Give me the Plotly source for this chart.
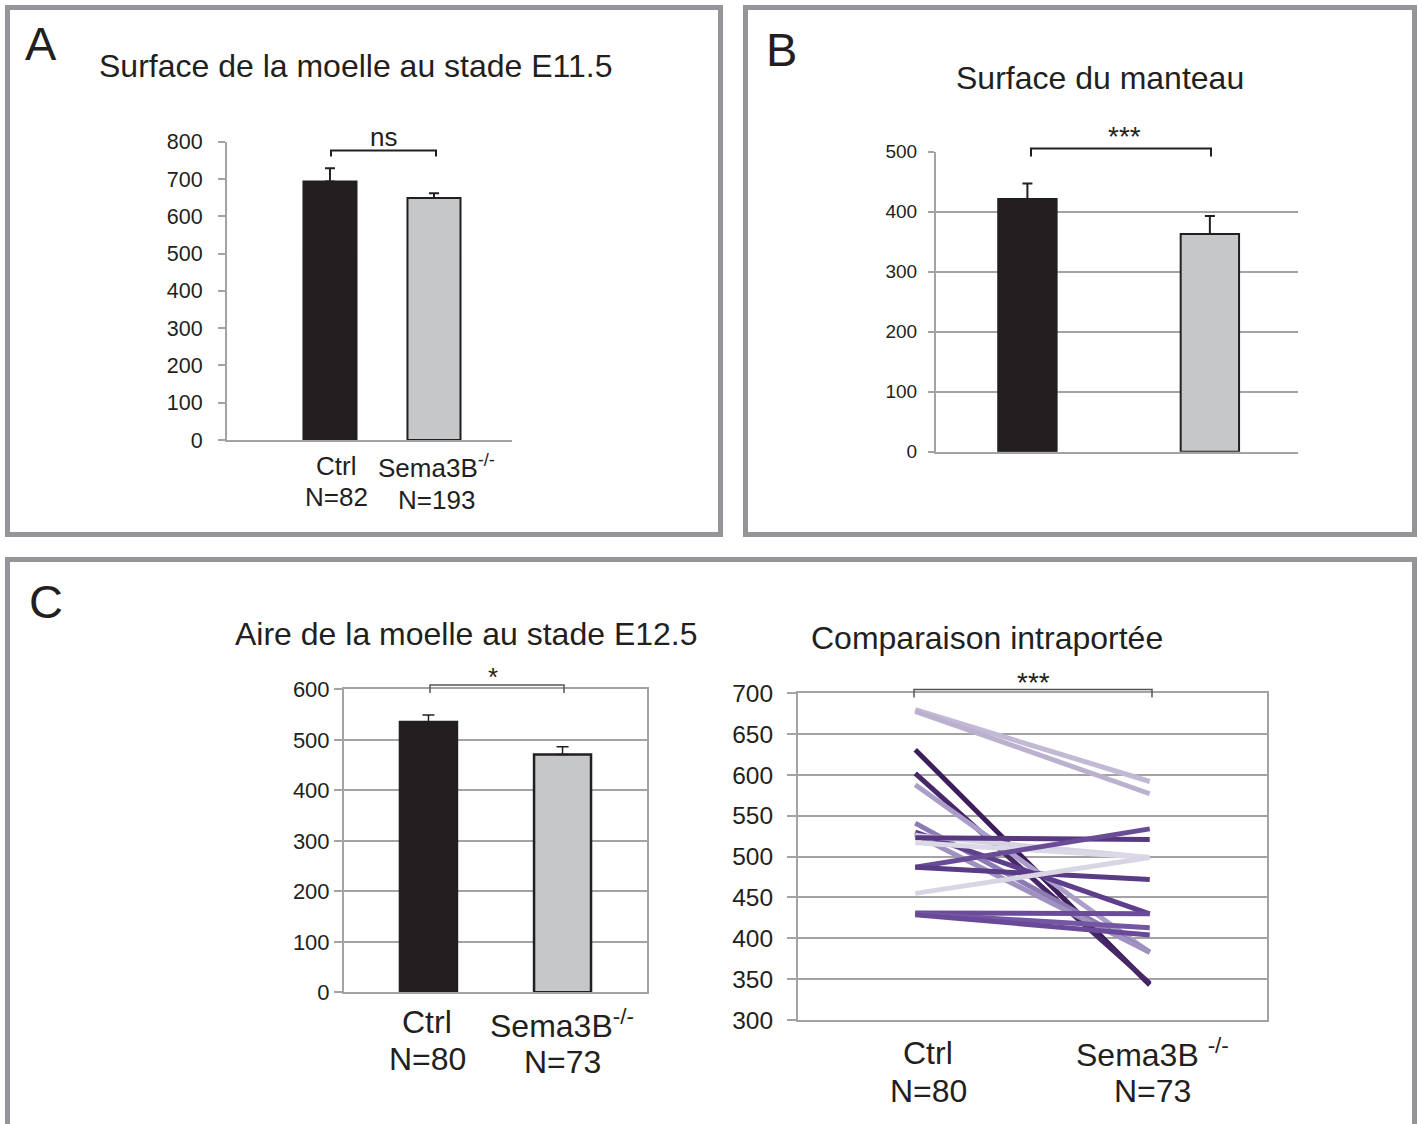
import plotly.graph_objects as go

# ---- data ----
groups = ["Ctrl", "Sema3B-/-"]

# A : surface de la moelle E11.5
a_means = [693, 649]
a_sem = [36, 13]

# B : surface du manteau
b_means = [421, 363]
b_sem = [26, 30]

# C (gauche) : aire de la moelle E12.5
c_means = [535, 471]
c_sem = [14, 15]

# C (droite) : comparaison intraportée, une paire par portée
pair_ctrl = [680, 678, 631, 602, 588, 541, 530, 527, 526, 523, 517, 487, 487, 455, 431, 430, 429]
pair_ko = [592, 577, 343, 345, 383, 383, 430, 383, 499, 521, 499, 534, 472, 499, 430, 413, 404]
pair_colors = ["#c2b9d5", "#bbb1cf", "#3d1d5c", "#472767", "#ab9fc9", "#8c7bb3", "#5e3f8b",
               "#9f92c1", "#d6d2e3", "#58397f", "#dcd9e7", "#6a4b96", "#5a3b85", "#d9d5e5",
               "#6b4c9a", "#7457a2", "#6a4a98"]

W, H = 1423, 1124
FONT = "Liberation Sans, Arial, sans-serif"
INK = "#231f20"
GRID = "#a3a3a3"
FRAME = "#939598"


def fx(px):
    return px / W


def fy(py):
    return 1 - py / H


def dom_x(p0, p1):
    return [fx(p0), fx(p1)]


def dom_y(top, bottom):
    return [fy(bottom), fy(top)]


fig = go.Figure()

bar_colors = [INK, "#c6c7c8"]
err = dict(type="data", symmetric=False, arrayminus=[0, 0], color=INK, thickness=2, width=5)

fig.add_trace(go.Bar(x=groups, y=a_means, xaxis="x", yaxis="y", width=0.51,
                     marker=dict(color=bar_colors, line=dict(color=INK, width=2)),
                     error_y=dict(err, array=a_sem)))
fig.add_trace(go.Bar(x=groups, y=b_means, xaxis="x2", yaxis="y2", width=0.32,
                     marker=dict(color=bar_colors, line=dict(color=INK, width=2)),
                     error_y=dict(err, array=b_sem)))
fig.add_trace(go.Bar(x=groups, y=c_means, xaxis="x3", yaxis="y3", width=0.425,
                     marker=dict(color=bar_colors, line=dict(color=INK, width=2.5)),
                     error_y=dict(err, array=c_sem, width=6, thickness=1.5)))

for s, e, col in zip(pair_ctrl, pair_ko, pair_colors):
    fig.add_trace(go.Scatter(x=groups, y=[s, e], xaxis="x4", yaxis="y4", mode="lines",
                             line=dict(color=col, width=5), hoverinfo="skip"))

tick_font = dict(family=FONT, color=INK)
common_x = dict(type="category", showticklabels=False, ticks="", showgrid=False,
                zeroline=False, automargin=False)

fig.update_layout(
    width=W, height=H, autosize=False,
    margin=dict(l=0, r=0, t=0, b=0, pad=0),
    paper_bgcolor="white", plot_bgcolor="white",
    showlegend=False,
    # A
    xaxis=dict(common_x, domain=dom_x(227, 512), range=[-0.99, 1.75],
               showline=True, linecolor=GRID, linewidth=2, anchor="y"),
    yaxis=dict(domain=dom_y(141.7, 440), range=[0, 800], dtick=100, showgrid=False,
               zeroline=False, showline=True, linecolor=GRID, linewidth=2, automargin=False,
               ticks="outside", ticklen=7, tickcolor=GRID, tickwidth=2,
               ticklabelstandoff=11, tickfont=dict(tick_font, size=21.5), anchor="x"),
    # B
    xaxis2=dict(common_x, domain=dom_x(936, 1298), range=[-0.501, 1.483],
                showline=True, linecolor=GRID, linewidth=2, anchor="y2"),
    yaxis2=dict(domain=dom_y(151.7, 451.7), range=[0, 500], dtick=100, showgrid=True,
                gridcolor=GRID, gridwidth=2, zeroline=False, showline=True, automargin=False,
                linecolor=GRID, linewidth=2, ticks="outside", ticklen=6, tickcolor=GRID,
                tickwidth=2, ticklabelstandoff=7, tickfont=dict(tick_font, size=19), anchor="x2"),
    # C bars
    xaxis3=dict(common_x, domain=dom_x(344, 647), range=[-0.63, 1.63],
                showline=True, mirror=True, linecolor=GRID, linewidth=2, anchor="y3"),
    yaxis3=dict(domain=dom_y(689.3, 992.3), range=[0, 600], dtick=100, showgrid=True,
                gridcolor=GRID, gridwidth=1.5, zeroline=False, showline=True, mirror=True,
                automargin=False, linecolor=GRID, linewidth=2, ticks="outside", ticklen=8,
                tickcolor=GRID, tickwidth=2, ticklabelstandoff=0,
                tickfont=dict(tick_font, size=22), anchor="x3"),
    # C lines
    xaxis4=dict(common_x, domain=dom_x(798, 1267), range=[-0.5, 1.5],
                showline=True, mirror=True, linecolor=GRID, linewidth=2, anchor="y4"),
    yaxis4=dict(domain=dom_y(693.3, 1020), range=[300, 700], dtick=50, showgrid=True,
                gridcolor=GRID, gridwidth=2, zeroline=False, showline=True, mirror=True,
                automargin=False, linecolor=GRID, linewidth=2, ticks="outside", ticklen=9,
                tickcolor=GRID, tickwidth=2, ticklabelstandoff=9,
                tickfont=dict(tick_font, size=24.5), anchor="x4"),
)

# panel frames
shapes = []
for x0, y0, x1, y1 in [(7.5, 7.5, 720.5, 534.5), (745.5, 7.5, 1414.5, 534.5),
                       (7.5, 559.5, 1414.5, 1150)]:
    shapes.append(dict(type="rect", xref="paper", yref="paper",
                       x0=fx(x0), x1=fx(x1), y0=fy(y1), y1=fy(y0),
                       line=dict(color=FRAME, width=5)))


def bracket(x0, x1, y, drop, width=2, color=INK):
    path = "M {:.5f},{:.5f} L {:.5f},{:.5f} L {:.5f},{:.5f} L {:.5f},{:.5f}".format(
        fx(x0), fy(y + drop), fx(x0), fy(y), fx(x1), fy(y), fx(x1), fy(y + drop))
    return dict(type="path", xref="paper", yref="paper", path=path,
                line=dict(color=color, width=width))


shapes.append(bracket(331, 436, 150.5, 6))
shapes.append(bracket(1031, 1211, 148.5, 8))
shapes.append(bracket(430, 564, 685, 8, width=1.5, color="#555555"))
shapes.append(bracket(914, 1152, 689.5, 8, width=1.5, color="#555555"))
fig.update_layout(shapes=shapes)


def text(px, py, s, size):
    fig.add_annotation(x=fx(px), y=fy(py), xref="paper", yref="paper", text=s,
                       showarrow=False, xanchor="center", yanchor="middle",
                       font=dict(family=FONT, size=size, color=INK))


# panel letters
text(41, 44, "A", 47)
text(781, 49, "B", 47)
text(46, 601, "C", 47)

# titles
text(356, 66, "Surface de la moelle au stade E11.5", 32)
text(1100, 78, "Surface du manteau", 32)
text(466, 634, "Aire de la moelle au stade E12.5", 32)
text(987, 638, "Comparaison intraportée", 32)

# significance
text(383, 137, "ns", 26)
text(1124, 137, "***", 28)
text(493, 677, "*", 26)
text(1033, 682, "***", 28)

# group labels
text(336, 466, "Ctrl", 26)
text(336, 497, "N=82", 26)
text(437, 467, "Sema3B<sup>-/-</sup>", 26)
text(437, 500, "N=193", 26)

text(427, 1022, "Ctrl", 32)
text(427, 1059, "N=80", 32)
text(562, 1024, "Sema3B<sup>-/-</sup>", 32)
text(562, 1062, "N=73", 32)

text(928, 1053, "Ctrl", 32)
text(928, 1091, "N=80", 32)
text(1152, 1053, "Sema3B <sup>-/-</sup>", 32)
text(1152, 1091, "N=73", 32)

fig.write_html("out.html", config={"displayModeBar": False},
               post_script="document.body.style.margin='0';")
